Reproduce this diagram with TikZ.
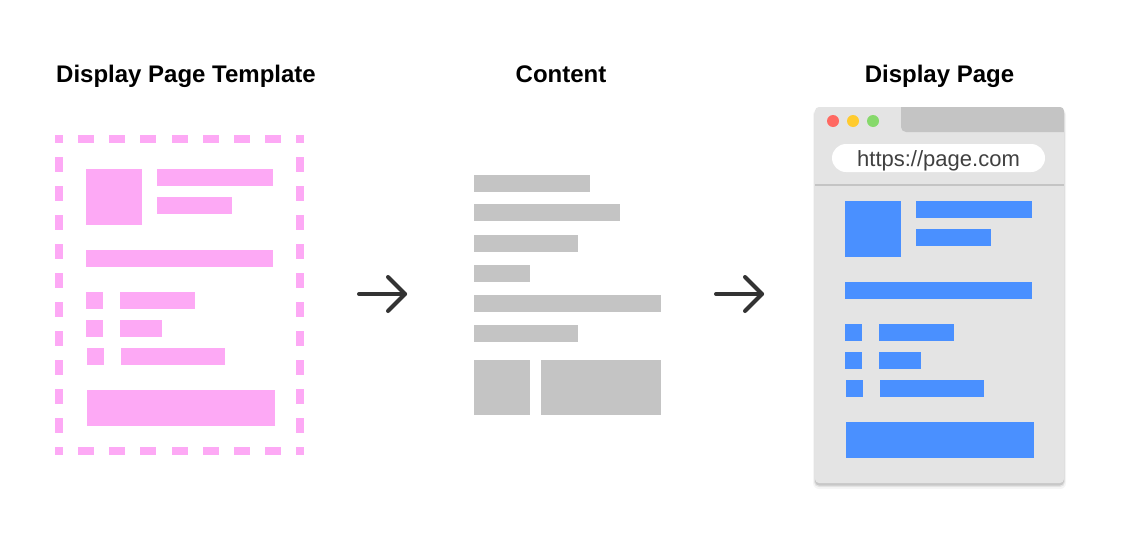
\documentclass[tikz,border=0pt]{standalone}
\usepackage{fontspec}
\setmainfont{Liberation Sans}
\newfontfamily\titlefont{Liberation Sans}
\newfontfamily\urlfont{Liberation Sans}
\definecolor{pinkc}{RGB}{253,169,245}
\definecolor{grayc}{RGB}{196,196,196}
\definecolor{winc}{RGB}{228,228,228}
\definecolor{bluec}{RGB}{74,144,255}
\definecolor{arrowc}{RGB}{51,51,51}
\definecolor{redc}{RGB}{255,105,98}
\definecolor{yelc}{RGB}{255,203,46}
\definecolor{grnc}{RGB}{134,217,107}
\definecolor{urltxt}{RGB}{64,64,64}
\tikzset{
  title/.style={anchor=base,font=\titlefont\bfseries\fontsize{24}{28}\selectfont,text=black,inner sep=0pt},
  pinkbox/.style={fill=pinkc},
  graybox/.style={fill=grayc},
  bluebox/.style={fill=bluec},
  arrowline/.style={draw=arrowc,line width=4pt,line cap=round,line join=round},
}
\begin{document}
\begin{tikzpicture}[x=1pt,y=-1pt]
\useasboundingbox[fill=white] (0,0) rectangle (1135,549);
% titles
\node[title] (t1) at (186,82) {Display Page Template};
\node[title] (t2) at (561,82) {Content};
\node[title] (t3) at (939.5,82) {Display Page};
% dashed pink frame
\foreach \x in {55,78,109,140,172,203,234,265,296}{
  \pgfmathsetmacro{\w}{(\x==55 || \x==296) ? 8 : 16}
  \fill[pinkc] (\x,135) rectangle ++(\w,8);
  \fill[pinkc] (\x,447) rectangle ++(\w,8);
}
\foreach \i in {0,...,9}{
  \fill[pinkc] (55,156.7+29*\i) rectangle ++(8,15);
  \fill[pinkc] (296,156.7+29*\i) rectangle ++(8,15);
}
% pink contents
\fill[pinkbox] (86,169) rectangle (142,225);
\fill[pinkbox] (157,169) rectangle (273,186);
\fill[pinkbox] (157,197) rectangle (232,214);
\fill[pinkbox] (86,250) rectangle (273,267);
\fill[pinkbox] (86,292) rectangle (103,309);
\fill[pinkbox] (120,292) rectangle (195,309);
\fill[pinkbox] (86,320) rectangle (103,337);
\fill[pinkbox] (120,320) rectangle (162,337);
\fill[pinkbox] (87,348) rectangle (104,365);
\fill[pinkbox] (121,348) rectangle (225,365);
\fill[pinkbox] (87,390) rectangle (275,426);
% arrows
\coordinate (a1s) at (359,294);
\coordinate (a1e) at (405,294);
\draw[arrowline] (a1s) -- (a1e);
\draw[arrowline] (388,277) -- (a1e) -- (388,311);
\coordinate (a2s) at (716,294);
\coordinate (a2e) at (762,294);
\draw[arrowline] (a2s) -- (a2e);
\draw[arrowline] (745,277) -- (a2e) -- (745,311);
% content bars
\fill[graybox] (474,175) rectangle (590,192);
\fill[graybox] (474,204) rectangle (620,221);
\fill[graybox] (474,235) rectangle (578,252);
\fill[graybox] (474,265) rectangle (530,282);
\fill[graybox] (474,295) rectangle (661,312);
\fill[graybox] (474,325) rectangle (578,342);
\fill[graybox] (474,360) rectangle (530,415);
\fill[graybox] (541,360) rectangle (661,415);
% browser window shadow
\fill[black,opacity=0.04,rounded corners=6] (813,109) rectangle (1066,489);
\fill[black,opacity=0.07,rounded corners=5] (814,109) rectangle (1065,487);
\fill[black,opacity=0.12,rounded corners=4] (815,109) rectangle (1064,485.5);
% window
\fill[winc,rounded corners=4] (815,107) rectangle (1064,483);
\begin{scope}
  \clip[rounded corners=4] (815,107) rectangle (1064,483);
  \fill[grayc] (901,107) -- (901,127) arc[start angle=180,end angle=90,radius=5] -- (1064,132) -- (1064,107) -- cycle;
\end{scope}
\fill[redc] (833,121) circle (6);
\fill[yelc] (853,121) circle (6);
\fill[grnc] (873,121) circle (6);
\fill[white,rounded corners=14] (832,144) rectangle (1045,172);
\node[anchor=base,inner sep=0pt,text=urltxt,font=\urlfont\fontsize{22}{26}\selectfont] (url) at (938.5,166) {https://page.com};
\draw[grayc,line width=2pt] (815,184.5) -- (1064,184.5);
% blue contents
\fill[bluebox] (845,201) rectangle (901,257);
\fill[bluebox] (916,201) rectangle (1032,218);
\fill[bluebox] (916,229) rectangle (991,246);
\fill[bluebox] (845,282) rectangle (1032,299);
\fill[bluebox] (845,324) rectangle (862,341);
\fill[bluebox] (879,324) rectangle (954,341);
\fill[bluebox] (845,352) rectangle (862,369);
\fill[bluebox] (879,352) rectangle (921,369);
\fill[bluebox] (846,380) rectangle (863,397);
\fill[bluebox] (880,380) rectangle (984,397);
\fill[bluebox] (846,422) rectangle (1034,458);
\end{tikzpicture}
\end{document}
